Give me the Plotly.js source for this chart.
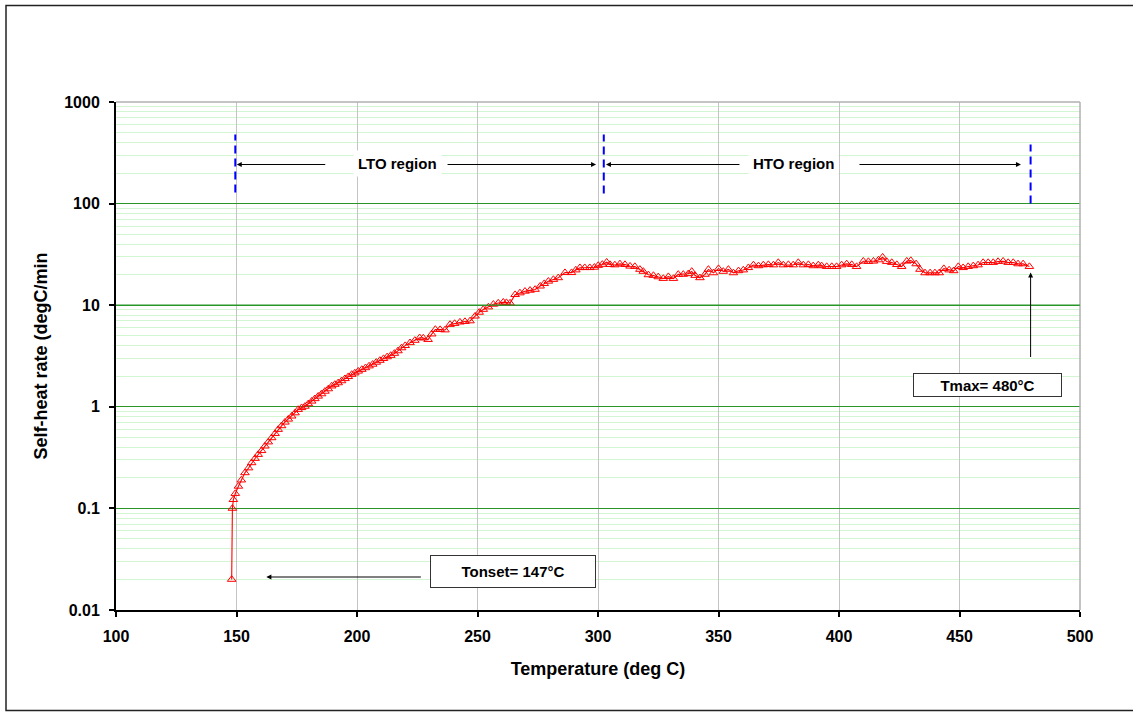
<!DOCTYPE html>
<html>
<head>
<meta charset="utf-8">
<script src="https://cdn.plot.ly/plotly-3.0.1.min.js"></script>
<style>html,body{margin:0;padding:0;background:#fff;}#chart{width:1133px;height:713px;}</style>
</head>
<body>
<div id="chart"></div>
<script>
// Temperature (deg C)
var temperature = [
  148, 148.3, 148.7, 149.5, 150.8, 152, 153.5, 155, 156.3, 157.7, 159, 160.4, 161.8, 163.2, 164.6, 166,
  167.3, 168.7, 170.1, 171.5, 172.9, 174.3, 175.6, 177, 178.4, 179.8, 181.2, 182.5, 183.9, 185.3, 186.7,
  188.1, 189.5, 190.8, 192.2, 193.6, 195, 196.4, 197.8, 199.1, 200.5, 202, 203.5, 205, 206.5, 208, 209.5,
  211, 212.5, 214, 215.5, 217, 218.5, 220, 222, 224, 226, 227.5, 229.5, 231, 232.5, 234.5, 236.5, 238.6,
  240.5, 242.7, 244.8, 246.9, 249, 250.7, 252.4, 254.5, 256.6, 258.6, 260.7, 262, 263.5, 265.6, 267.6,
  269.7, 271.8, 273.9, 276, 277.7, 279.4, 281.5, 283.5, 286.3, 289, 290.8, 292.5, 294.5, 296.6, 298.5,
  300.1, 301.8, 303.6, 305, 307, 309.1, 311.2, 313.3, 315.3, 317.4, 318.8, 320.9, 323, 325, 327.1, 329.2,
  331.3, 333.3, 335.4, 337.5, 338.9, 340.3, 342.3, 344.4, 345.8, 347.9, 350, 352, 354.1, 356.2, 358.3,
  360.3, 362.4, 364.5, 366.6, 368.6, 370.7, 372.8, 374.8, 376.9, 379, 381, 383.1, 385.2, 387.3, 389.3,
  391.4, 392.8, 394.9, 397, 399, 401.1, 403.2, 405.3, 407.3, 410.1, 412.2, 414.3, 416.4, 418.1, 419.8,
  421.9, 424, 426, 428.1, 429.8, 432, 433.6, 435.7, 437.8, 439.8, 441.6, 443.5, 445.7, 447.6, 449.5,
  451.5, 453.6, 455.7, 457.7, 459.8, 461.9, 464, 466, 468.1, 470.2, 472.3, 474.3, 476.4, 479
];
// Self-heat rate (degC/min)
var selfHeatRate = [
  0.02, 0.1, 0.122, 0.14, 0.165, 0.19, 0.224, 0.25, 0.281, 0.31, 0.339, 0.37, 0.41, 0.45, 0.495, 0.545,
  0.598, 0.65, 0.705, 0.755, 0.809, 0.87, 0.94, 0.98, 1.01, 1.07, 1.135, 1.2, 1.27, 1.34, 1.42,
  1.5, 1.6, 1.66, 1.72, 1.8, 1.89, 1.98, 2.08, 2.15, 2.24, 2.33, 2.42, 2.52, 2.62, 2.74, 2.86,
  2.98, 3.1, 3.2, 3.35, 3.55, 3.8, 4.0, 4.27, 4.5, 4.78, 4.75, 4.59, 5.2, 5.77, 5.75, 5.7, 6.46,
  6.6, 6.81, 6.9, 7.0, 7.8, 8.5, 9.08, 9.6, 10.2, 10.5, 10.7, 10.6, 10.5, 12.7, 13.2,
  13.7, 14.0, 14.3, 15.4, 16.3, 17.2, 17.9, 18.6, 20.9, 20.9, 22.2, 23.4, 23.4, 23.4, 23.6,
  24.6, 25.2, 26.5, 25.1, 24.9, 25.5, 25.1, 24.2, 24.0, 22.5, 21.5, 19.9, 19.6, 19.0, 18.3, 19.1,
  18.3, 20.1, 20.1, 20.4, 21.5, 19.6, 18.6, 20.1, 22.5, 20.8, 22.9, 21.5, 22.5, 20.8, 21.8,
  22.2, 23.4, 24.9, 24.4, 24.9, 25.1, 24.9, 26.3, 24.9, 25.1, 24.9, 26.3, 24.9, 25.1, 24.4,
  24.9, 24.4, 24.0, 24.0, 24.0, 24.9, 25.5, 25.1, 24.0, 27.1, 26.9, 27.1, 27.9, 29.7, 26.9,
  26.3, 25.1, 24.0, 27.1, 27.5, 25.5, 22.5, 20.8, 20.8, 20.8, 20.8, 22.9, 22.2, 21.8, 24.0,
  23.4, 24.0, 24.4, 24.9, 26.3, 26.3, 26.3, 26.9, 27.1, 26.3, 26.3, 25.5, 25.5, 24.0
];
var xTickVals = [100, 150, 200, 250, 300, 350, 400, 450, 500];
var yTickVals = [0.01, 0.1, 1, 10, 100, 1000];
var yTickText = ['0.01', '0.1', '1', '10', '100', '1000'];
var yMinorVals = [0.02, 0.03, 0.04, 0.05, 0.06, 0.07, 0.08, 0.09, 0.2, 0.3, 0.4, 0.5, 0.6, 0.7, 0.8, 0.9,
  2, 3, 4, 5, 6, 7, 8, 9, 20, 30, 40, 50, 60, 70, 80, 90, 200, 300, 400, 500, 600, 700, 800, 900];
// region boundaries (deg C)
var regionBounds = [149.5, 302.4, 479.5];

var FONT = 'Arial, "Liberation Sans", sans-serif';
var Y_LOG_RANGE = [-2, 3];
var GREEN = '#2a962a';

var trace = {
  x: temperature,
  y: selfHeatRate,
  type: 'scatter',
  mode: 'lines+markers',
  line: {color: '#ff0000', width: 1.1},
  marker: {symbol: 'triangle-up-open', size: 7.5, color: '#ff0000', line: {width: 1, color: '#ff0000'}},
  showlegend: false,
  hoverinfo: 'x+y'
};

function py(p) { return (610.5 - p) / 508; }
function valToPaper(v) { return (Math.log10(v) - Y_LOG_RANGE[0]) / (Y_LOG_RANGE[1] - Y_LOG_RANGE[0]); }

var shapes = [
  // outer chart frame
  {type: 'rect', xref: 'paper', yref: 'paper', x0: -0.1141, x1: 1.0871, y0: -0.1978, y1: 1.1900,
   line: {color: '#222', width: 1.5}, fillcolor: 'rgba(0,0,0,0)', layer: 'below'},
  // top and right plot borders
  {type: 'line', xref: 'paper', yref: 'paper', x0: 0, x1: 1, y0: 1, y1: 1, line: {color: '#b0b0b0', width: 1.5}},
  {type: 'line', xref: 'paper', yref: 'paper', x0: 1, x1: 1, y0: 0, y1: 1, line: {color: '#b0b0b0', width: 1.5}},
  // dashed region boundaries
  {type: 'line', xref: 'x', yref: 'paper', x0: regionBounds[0], x1: regionBounds[0], y0: py(193), y1: py(135),
   line: {color: '#0000ff', width: 2, dash: '8px,5px'}},
  {type: 'line', xref: 'x', yref: 'paper', x0: regionBounds[1], x1: regionBounds[1], y0: py(194), y1: py(135),
   line: {color: '#0000ff', width: 2, dash: '8px,5px'}},
  {type: 'line', xref: 'x', yref: 'paper', x0: regionBounds[2], x1: regionBounds[2], y0: py(204), y1: py(145),
   line: {color: '#0000ff', width: 2, dash: '8px,5px'}}
];
// the decade line at 10 drawn explicitly in green on top
shapes.push({type: 'line', xref: 'paper', yref: 'paper', x0: 0, x1: 1, y0: valToPaper(yTickVals[3]), y1: valToPaper(yTickVals[3]),
  line: {color: GREEN, width: 1.3}, layer: 'above'});

function arrow(x, yp, ax, ay) {
  return {xref: 'x', yref: 'paper', x: x, y: yp, text: '', showarrow: true,
    ax: ax, ay: ay, arrowhead: 2, arrowsize: 1, arrowwidth: 1, arrowcolor: '#000', standoff: 0, startstandoff: 0};
}
function label(x, yp, txt, boxed, w, h) {
  var a = {xref: 'x', yref: 'paper', x: x, y: yp, text: txt, showarrow: false,
    xanchor: 'center', yanchor: 'middle',
    font: {family: FONT, size: 15, color: '#000', weight: 'bold'}, bgcolor: '#ffffff', borderpad: 4};
  if (boxed) {
    a.bordercolor = '#333'; a.borderwidth = 1; a.borderpad = 2; a.width = w; a.height = h;
  }
  return a;
}
var yArr = py(165);
var annotations = [
  arrow(150.1, yArr, 90, 0),
  arrow(299.2, yArr, -150, 0),
  arrow(303.3, yArr, 135, 0),
  arrow(475.5, yArr, -163, 0),
  arrow(479.5, py(273), 0, 86),
  arrow(162.4, py(577.5), 156, 0),
  label(217, py(163.5), 'LTO region', false),
  label(381.3, py(163.5), 'HTO region', false),
  label(461.7, py(385), 'Tmax= 480°C', true, 143, 18),
  label(264.7, py(571.5), 'Tonset= 147°C', true, 160, 27)
];

var layout = {
  width: 1133, height: 713,
  margin: {l: 116, r: 53, t: 102, b: 103, pad: 0},
  paper_bgcolor: '#ffffff', plot_bgcolor: '#ffffff',
  font: {family: FONT, color: '#000'},
  xaxis: {
    range: [100, 500], tickmode: 'array', tickvals: xTickVals,
    showgrid: true, gridcolor: '#c4c4c4', gridwidth: 1,
    showline: true, linecolor: '#000', linewidth: 2,
    ticks: 'outside', ticklen: 5, tickwidth: 2, tickcolor: '#000',
    ticklabelstandoff: 6,
    tickfont: {family: FONT, size: 16, color: '#000', weight: 'bold'},
    zeroline: false,
    title: {text: 'Temperature (deg C)', font: {family: FONT, size: 18, color: '#000', weight: 'bold'}, standoff: 18}
  },
  yaxis: {
    type: 'log', range: Y_LOG_RANGE, tickmode: 'array', tickvals: yTickVals, ticktext: yTickText,
    showgrid: true, gridcolor: GREEN, gridwidth: 1.3,
    minor: {tickmode: 'array', tickvals: yMinorVals,
      showgrid: true, gridcolor: '#d2f5d2', gridwidth: 1, ticks: ''},
    showline: true, linecolor: '#000', linewidth: 2,
    ticks: 'outside', ticklen: 5, tickwidth: 2, tickcolor: '#000',
    ticklabelstandoff: 6,
    tickfont: {family: FONT, size: 16, color: '#000', weight: 'bold'},
    zeroline: false,
    title: {text: 'Self-heat rate (degC/min', font: {family: FONT, size: 18, color: '#000', weight: 'bold'}, standoff: 12}
  },
  shapes: shapes,
  annotations: annotations,
  showlegend: false
};

Plotly.newPlot('chart', [trace], layout, {displayModeBar: false, staticPlot: true});
</script>
</body>
</html>
